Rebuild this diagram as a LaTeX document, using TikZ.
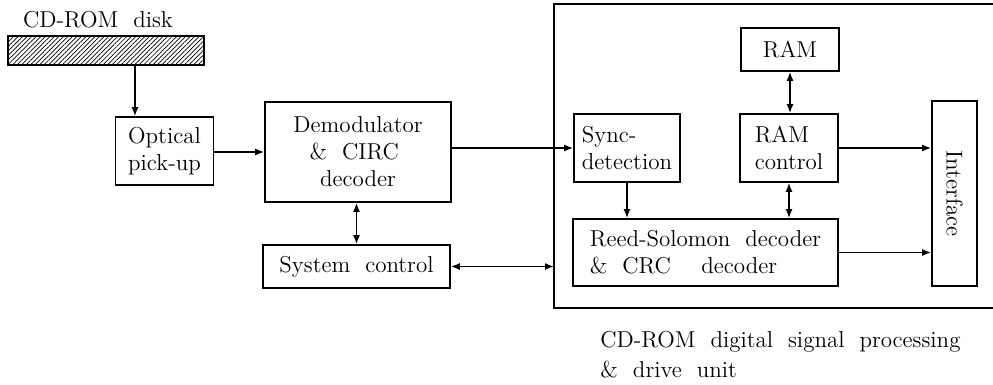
\documentclass[tikz,border=0pt]{standalone}
\usepackage{tikz}
\usetikzlibrary{arrows.meta,positioning,calc,patterns,patterns.meta}

\begin{document}
\begin{tikzpicture}[x=0.5pt,y=-0.5pt,line width=0.8pt,
  font=\fontsize{11.5}{13.5}\selectfont,
  box/.style={draw,inner sep=2pt},
  arr/.style={-{Latex[length=4.5pt,width=3.5pt]}},
  darr/.style={{Latex[length=4.5pt,width=3.5pt]}-{Latex[length=4.5pt,width=3.5pt]}}]
  \useasboundingbox (0,0) rectangle (993,385);
  % ディスク
  \node (disklabel) at (98,20) {CD-ROM~~disk};
  \node[draw,pattern={Lines[angle=45,distance=1.6pt,line width=0.35pt]},minimum width=98pt,minimum height=14.5pt] (disk) at (106,50.5) {};
  \node[box,minimum width=49pt,minimum height=34pt,align=center] (optical) at (164.5,151) {Optical\\pick-up};
  \node[box,minimum width=93pt,minimum height=50pt,align=center] (demod) at (358,152) {Demodulator\\\&~~CIRC~~\\decoder};
  \node[box,minimum width=93.5pt,minimum height=21.5pt] (sysctl) at (356.5,266.5) {System~~control};
  % 信号処理部(右端は開いている)
  \coordinate (unitNW) at (554,4);
  \draw (993,4) -- (unitNW) -- (554,308) -- (993,308);
  \node[box,minimum width=53pt,minimum height=34pt,align=left] (sync) at (627,148) {Sync-\\detection};
  \node[box,minimum width=49pt,minimum height=21.5pt] (ram) at (790,49.5) {RAM};
  \node[box,minimum width=49pt,minimum height=34pt,align=left] (ramctl) at (789,148) {RAM\\control~};
  \node[box,minimum width=132.5pt,minimum height=33.5pt,align=left] (rs) at (705.5,252.5) {Reed-Solomon~~decoder\\\&~~CRC\quad~decoder\hspace{4.5em}};
  \node[box,minimum width=92.5pt,minimum height=22.5pt,rotate=-90] (iface) at (954.5,193.5) {Interface};
  \node[anchor=base west,align=left,font=\fontsize{11.5}{15}\selectfont] (caption) at (593,378) {CD-ROM~~digital~~signal~~processing\\\&~~drive~~unit};
  % 接続
  \draw[arr] (disk.south -| 135,0) -- (optical.north -| 135,0);
  \draw[arr] (optical.east |- demod) -- (demod.west);
  \draw[arr] (demod.east |- sync) -- (sync.west);
  \draw[darr] (demod.south -| sysctl) -- (sysctl.north);
  \draw[darr] (sysctl.east) -- (sysctl.east -| unitNW);
  \draw[arr] (sync.south) -- (sync.south |- rs.north);
  \draw[darr] (ram.south) -- (ram.south |- ramctl.north);
  \draw[darr] (ramctl.south) -- (ramctl.south |- rs.north);
  \draw[arr] (ramctl.east) -- (ramctl.east -| iface.south);
  \draw[arr] (rs.east) -- (rs.east -| iface.south);
\end{tikzpicture}
\end{document}
